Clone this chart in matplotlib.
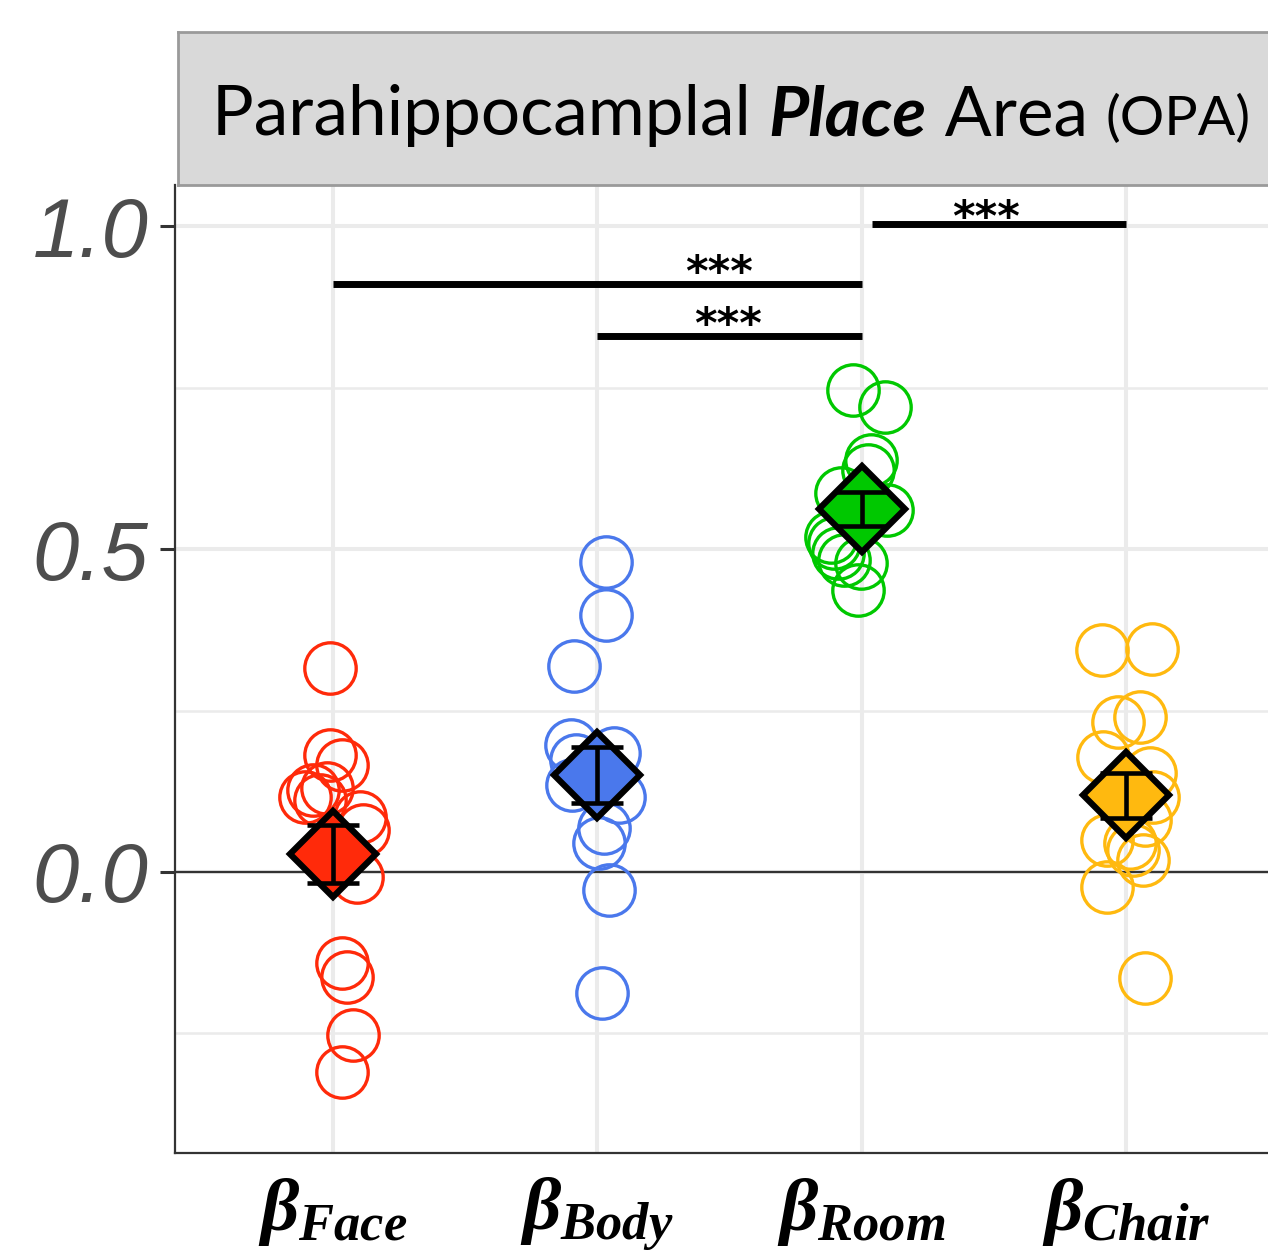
import numpy as np
import matplotlib.pyplot as plt

# ---------- data ----------
conditions = ['Face', 'Body', 'Room', 'Chair']
colors = ['#FF2A0A', '#4A78EC', '#00C800', '#FFB90F']

# jitter offsets (x) and betas (y) of the single subjects
face_dx = [-0.011, -0.011, 0.034, -0.106, -0.076, -0.023, -0.049, 0.102, 0.113, 0.091, 0.034, 0.053, 0.076, 0.034]
face_y = [0.316, 0.181, 0.166, 0.116, 0.127, 0.130, 0.111, 0.085, 0.065, -0.008, -0.141, -0.163, -0.252, -0.310]
body_dx = [0.034, 0.034, -0.087, -0.098, -0.079, -0.095, 0.064, 0.083, 0.026, 0.008, 0.045, 0.019]
body_y = [0.480, 0.398, 0.319, 0.197, 0.173, 0.135, 0.184, 0.116, 0.068, 0.045, -0.028, -0.187]
room_dx = [-0.034, 0.087, 0.034, 0.023, -0.079, 0.098, -0.117, -0.106, -0.091, -0.068, -0.004, -0.015]
room_y = [0.746, 0.720, 0.638, 0.622, 0.587, 0.560, 0.519, 0.509, 0.494, 0.483, 0.478, 0.437]
chair_dx = [-0.091, 0.098, 0.053, -0.030, -0.087, 0.091, 0.102, 0.072, -0.072, 0.015, 0.026, 0.064, -0.072, 0.072]
chair_y = [0.344, 0.345, 0.240, 0.232, 0.178, 0.153, 0.116, 0.080, 0.050, 0.045, 0.034, 0.019, -0.023, -0.164]

means = [0.028, 0.150, 0.562, 0.119]
sems = [0.045, 0.043, 0.027, 0.035]

# significance bars: (x start, x end, height, star x)
sig_x0 = [1.0, 2.0, 3.04]
sig_x1 = [3.0, 3.0, 4.0]
sig_y = [0.910, 0.830, 1.003]
star_x = [2.46, 2.495, 3.47]
star_dy = [0.015, 0.015, 0.008]

# ---------- figure ----------
plt.rcParams['mathtext.fontset'] = 'custom'
plt.rcParams['mathtext.it'] = 'Liberation Serif:italic:bold'
plt.rcParams['mathtext.rm'] = 'Liberation Serif:bold'

W, H = 1268, 1254
fig = plt.figure(figsize=(W / 100, H / 100), dpi=100)
ax = fig.add_axes([175 / W, (H - 1153) / H, (W - 175) / W, (1153 - 185) / H])

all_dx = [face_dx, body_dx, room_dx, chair_dx]
all_y = [face_y, body_y, room_y, chair_y]
pos = np.arange(1, len(conditions) + 1)

for i, c in enumerate(colors):
    xs = pos[i] + np.array(all_dx[i])
    ax.plot(xs, all_y[i], linestyle='', marker='o', ms=37, mfc='none', mec=c, mew=2.4, zorder=3)
    ax.plot(pos[i], means[i], marker='D', ms=44, mfc=c, mec='black', mew=4.5, zorder=4)
    ax.errorbar(pos[i], means[i], yerr=sems[i], color='black', lw=3.3, capsize=19, capthick=3.3, zorder=5)

ax.axhline(0, color='#333333', lw=1.6, zorder=2)

for x0, x1, y, sx, dy in zip(sig_x0, sig_x1, sig_y, star_x, star_dy):
    ax.plot([x0, x1], [y, y], color='black', lw=5, solid_capstyle='butt', zorder=5)
    ax.text(sx, y + dy, '***', ha='center', va='center', fontsize=31, fontweight='bold',
            family='DejaVu Sans', zorder=6)

ax.set_xlim(0.402, 4.538)
ax.set_ylim(-0.435, 1.0635)
ax.set_xticks(pos)
ax.set_xticklabels([r'$\beta_{%s}$' % c for c in conditions], fontsize=54)
ax.set_yticks([0.0, 0.5, 1.0])
ax.set_yticklabels(['0.0', '0.5', '1.0'])
ax.set_yticks([-0.25, 0.25, 0.75], minor=True)
ax.tick_params(axis='x', length=0, pad=16)
ax.tick_params(axis='y', which='major', length=11, width=2.2, color='#333333', pad=8,
               labelsize=60, labelcolor='#4D4D4D')
ax.tick_params(axis='y', which='minor', length=0)
for lab in ax.get_yticklabels():
    lab.set_fontfamily('Liberation Sans')
    lab.set_fontstyle('italic')

ax.grid(True, which='major', color='#EBEBEB', lw=2.9, zorder=0)
ax.grid(True, which='minor', axis='y', color='#EBEBEB', lw=1.8, zorder=0)
ax.set_axisbelow(True)
for s in ['top', 'right']:
    ax.spines[s].set_visible(False)
for s in ['left', 'bottom']:
    ax.spines[s].set_color('#333333')
    ax.spines[s].set_linewidth(1.6)

# ---------- facet strip ----------
strip = fig.add_axes([178 / W, (H - 185) / H, (W - 178) / W + 0.01, (185 - 32) / H])
strip.set_facecolor('#D9D9D9')
strip.set_xticks([])
strip.set_yticks([])
for s in strip.spines.values():
    s.set_color('#9A9A9A')
    s.set_linewidth(2)

pieces = [('Parahippocamplal ', 'normal', 'normal', 1.0),
          ('Place', 'bold', 'italic', 1.0),
          (' Area ', 'normal', 'normal', 1.0),
          ('(OPA)', 'normal', 'normal', 0.8)]
fig.canvas.draw()
r = fig.canvas.get_renderer()
x0_px, x_end_px = 212, 1250
base_y = (H - 135) / H

# measure at a trial size, then scale so the title fills the strip like the original
trial = 50
total = 0
for txt, wt, st, rel in pieces:
    t = fig.text(0, 0, txt, fontsize=trial * rel, fontweight=wt, fontstyle=st, family='Lato')
    total += t.get_window_extent(renderer=r).width
    t.remove()
size = trial * (x_end_px - x0_px) / total

x_px = x0_px
for txt, wt, st, rel in pieces:
    t = fig.text(x_px / W, base_y, txt, fontsize=size * rel, fontweight=wt, fontstyle=st,
                 family='Lato', va='baseline', ha='left')
    x_px += t.get_window_extent(renderer=r).width

fig.savefig('out.png', dpi=100)
